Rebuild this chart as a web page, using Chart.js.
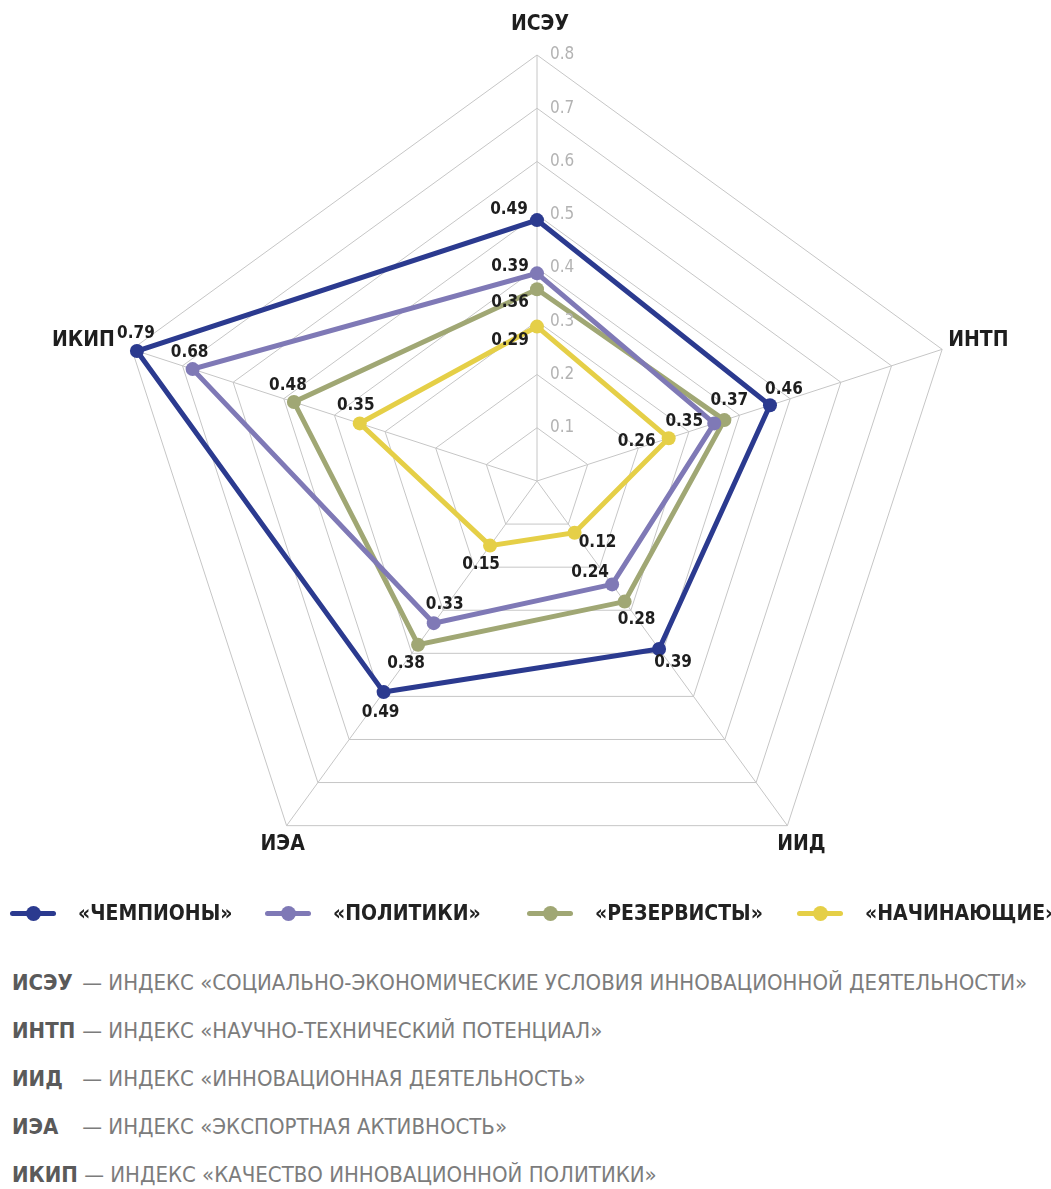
<!DOCTYPE html>
<html>
<head>
<meta charset="utf-8">
<script src="https://cdn.jsdelivr.net/npm/chart.js@4/dist/chart.umd.min.js"></script>
<style>
  html, body { margin: 0; padding: 0; background: #fff; }
  body { width: 1051px; height: 1189px; position: relative; overflow: hidden;
         font-family: "Liberation Sans Narrow", "DejaVu Sans Condensed", Roboto, sans-serif; }
  #chartBox { position: absolute; left: 0; top: 0; }
  #legend { position: absolute; left: 0; top: 899px; width: 1051px; height: 30px; }
  .lg { position: absolute; top: 0; height: 30px; }
  .lg .ln { position: absolute; left: 0; top: 12px; width: 46px; height: 5px; border-radius: 3px; }
  .lg .dt { position: absolute; left: 16px; top: 7px; width: 15px; height: 15px; border-radius: 50%; }
  .lg .tx { position: absolute; left: 68px; top: 2px; white-space: nowrap; font-weight: bold;
            font-size: 21px; color: #222; }
  #notes { position: absolute; left: 12px; top: 970px; }
  .nt { height: 48px; font-size: 22px; color: #7c7c7c; white-space: nowrap; }
  .nt b { display: inline-block; min-width: 64px; color: #5a5a5a; }
</style>
</head>
<body>
<div id="chartBox"><canvas id="radar" width="1051" height="910"></canvas></div>
<div id="legend"></div>
<div id="notes"></div>
<script>
// Axes of the radar (indices)
const axes = ["ИСЭУ", "ИНТП", "ИИД", "ИЭА", "ИКИП"];

// Index values per group
const champions = [0.49, 0.46, 0.39, 0.49, 0.79];
const politicians = [0.39, 0.35, 0.24, 0.33, 0.68];
const reservists = [0.36, 0.37, 0.28, 0.38, 0.48];
const beginners = [0.29, 0.26, 0.12, 0.15, 0.35];

const seriesNames = ["«ЧЕМПИОНЫ»", "«ПОЛИТИКИ»", "«РЕЗЕРВИСТЫ»", "«НАЧИНАЮЩИЕ»"];

// Radial scale ticks
const tickValues = [0.1, 0.2, 0.3, 0.4, 0.5, 0.6, 0.7, 0.8];
const tickLabels = ["0.1", "0.2", "0.3", "0.4", "0.5", "0.6", "0.7", "0.8"];

// Footnote definitions
const noteAbbr = ["ИСЭУ", "ИНТП", "ИИД", "ИЭА", "ИКИП"];
const noteText = [
  "ИНДЕКС «СОЦИАЛЬНО-ЭКОНОМИЧЕСКИЕ УСЛОВИЯ ИННОВАЦИОННОЙ ДЕЯТЕЛЬНОСТИ»",
  "ИНДЕКС «НАУЧНО-ТЕХНИЧЕСКИЙ ПОТЕНЦИАЛ»",
  "ИНДЕКС «ИННОВАЦИОННАЯ ДЕЯТЕЛЬНОСТЬ»",
  "ИНДЕКС «ЭКСПОРТНАЯ АКТИВНОСТЬ»",
  "ИНДЕКС «КАЧЕСТВО ИННОВАЦИОННОЙ ПОЛИТИКИ»"
];

const FONT = '"Liberation Sans Narrow", "DejaVu Sans Condensed", Roboto, sans-serif';
const colors = ["#2b3a8f", "#7f79b6", "#a0a774", "#e5cf47"];
const seriesData = [champions, politicians, reservists, beginners];

// Offsets of the value labels relative to their points, per series and axis
const labelOffsets = [
  [[-28, -10], [14, -16], [14, 14], [-3, 20], [-1, -17]],
  [[-27, -7], [-30, -2], [-22, -12], [11, -19], [-3, -17]],
  [[-27, 13], [5, -20], [12, 18], [-12, 19], [-6, -16]],
  [[-27, 14], [-32, 3], [23, 10], [-9, 19], [-4, -18]]
];

// Axis title placement: [dx, dy, align] relative to the outer vertex
const axisTitlePos = [[3, -30, "center"], [6, -9, "left"], [14, 19, "center"], [-4, 19, "center"], [-17, -9, "right"]];

const valueLabels = {
  id: "valueLabels",
  afterDatasetsDraw(chart) {
    const ctx = chart.ctx;
    ctx.save();
    ctx.font = "bold 17px " + FONT;
    ctx.fillStyle = "#1e1e1e";
    ctx.textAlign = "center";
    ctx.textBaseline = "middle";
    chart.data.datasets.forEach((ds, di) => {
      const meta = chart.getDatasetMeta(di);
      meta.data.forEach((pt, i) => {
        const [dx, dy] = labelOffsets[di][i];
        ctx.fillText(ds.data[i].toFixed(2), pt.x + dx, pt.y + dy);
      });
    });
    ctx.restore();
  }
};

const scaleText = {
  id: "scaleText",
  afterDraw(chart) {
    const s = chart.scales.r;
    const ctx = chart.ctx;
    ctx.save();
    // tick labels along the top axis
    ctx.font = "17px " + FONT;
    ctx.fillStyle = "#b3b3b3";
    ctx.textAlign = "left";
    ctx.textBaseline = "middle";
    tickValues.forEach((v, i) => {
      const d = s.getDistanceFromCenterForValue(v);
      ctx.fillText(tickLabels[i], s.xCenter + 13, s.yCenter - d);
    });
    // axis titles
    ctx.font = "bold 21px " + FONT;
    ctx.fillStyle = "#1e1e1e";
    axes.forEach((name, i) => {
      const p = s.getPointPosition(i, s.drawingArea);
      const [dx, dy, al] = axisTitlePos[i];
      ctx.textAlign = al;
      ctx.fillText(name, p.x + dx, p.y + dy);
    });
    ctx.restore();
  }
};

new Chart(document.getElementById("radar"), {
  type: "radar",
  data: {
    labels: axes,
    datasets: seriesData.map((d, i) => ({
      label: seriesNames[i],
      data: d,
      borderColor: colors[i],
      backgroundColor: colors[i],
      pointBackgroundColor: colors[i],
      pointBorderColor: colors[i],
      borderWidth: 5,
      pointRadius: 7,
      pointBorderWidth: 0,
      fill: false,
      tension: 0
    }))
  },
  options: {
    responsive: false,
    animation: false,
    devicePixelRatio: 1,
    layout: { padding: { left: 23, right: 0, top: 55, bottom: 3 } },
    plugins: { legend: { display: false }, tooltip: { enabled: false } },
    scales: {
      r: {
        min: 0,
        max: 0.8,
        ticks: { display: false, stepSize: 0.1 },
        pointLabels: { display: false },
        grid: { color: "#c6c6c6", lineWidth: 1 },
        angleLines: { color: "#c6c6c6", lineWidth: 1 }
      }
    }
  },
  plugins: [valueLabels, scaleText]
});

// Legend
const legendPos = [10, 265, 527, 797];
const legend = document.getElementById("legend");
seriesNames.forEach((n, i) => {
  const el = document.createElement("div");
  el.className = "lg";
  el.style.left = legendPos[i] + "px";
  el.innerHTML = '<div class="ln" style="background:' + colors[i] + '"></div>' +
                 '<div class="dt" style="background:' + colors[i] + '"></div>' +
                 '<div class="tx">' + n + '</div>';
  legend.appendChild(el);
});

// Footnotes
const notes = document.getElementById("notes");
noteAbbr.forEach((a, i) => {
  const el = document.createElement("div");
  el.className = "nt";
  el.innerHTML = "<b>" + a + "</b> — " + noteText[i];
  notes.appendChild(el);
});
</script>
</body>
</html>
